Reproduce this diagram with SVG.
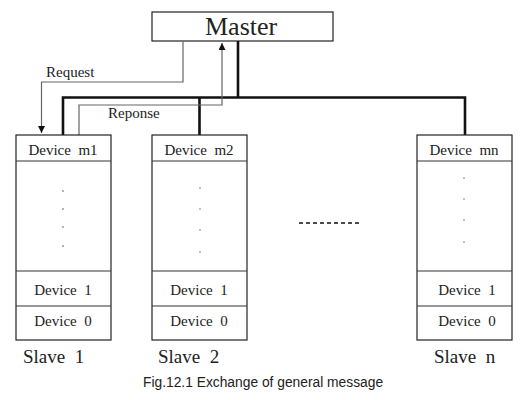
<svg xmlns="http://www.w3.org/2000/svg" width="524" height="400" viewBox="0 0 524 400">
<style>
.box{fill:#fff;stroke:#222;stroke-width:1.2}
.row{stroke:#333;stroke-width:1.2}
.t{font-family:"Liberation Serif",serif;fill:#222;white-space:pre}
.dev{font-size:15px;text-anchor:middle}
.sl{font-size:19px}
.bus{fill:none;stroke:#111;stroke-width:2.6}
.msg{fill:none;stroke:#666;stroke-width:1.2}
.dot{fill:#555}
</style>
<defs>
<marker id="ah" viewBox="0 0 10 10" refX="10" refY="5" markerWidth="7" markerHeight="7" markerUnits="userSpaceOnUse" orient="auto">
<path d="M0,0 L10,5 L0,10 Z" fill="#111"/>
</marker>
</defs>
<rect width="524" height="400" fill="#fff"/>
<g id="master">
<rect class="box" x="152" y="12" width="181" height="29"/>
<text class="t" x="205" y="35" font-size="26">Master</text>
</g>
<g id="connectors">
<path class="bus" d="M238,41 V97.5 M63,135 V97.5 H465 V135 M199.5,97.5 V135"/>
<path class="msg" d="M183,41 V82 H41.5 V133" marker-end="url(#ah)"/>
<path class="msg" d="M79,135 V105 H222 V43" marker-end="url(#ah)"/>
<text class="t" x="46" y="77" font-size="15">Request</text>
<text class="t" x="108" y="118" font-size="15">Reponse</text>
</g>
<g id="slave1">
<rect class="box" x="16" y="135" width="95" height="205"/>
<path class="row" d="M16,161H111M16,271H111M16,306H111"/>
<text class="t dev" x="63" y="155" xml:space="preserve">Device  m1</text>
<circle class="dot" cx="63" cy="191" r="0.8"/><circle class="dot" cx="63" cy="209" r="0.8"/><circle class="dot" cx="63" cy="227" r="0.8"/><circle class="dot" cx="63" cy="246" r="0.8"/>
<text class="t dev" x="63" y="295" xml:space="preserve">Device  1</text>
<text class="t dev" x="63" y="326" xml:space="preserve">Device  0</text>
<text class="t sl" x="23" y="363" xml:space="preserve">Slave  1</text>
</g>
<g id="slave2">
<rect class="box" x="152" y="135" width="95" height="205"/>
<path class="row" d="M152,161H247M152,271H247M152,306H247"/>
<text class="t dev" x="199" y="155" xml:space="preserve">Device  m2</text>
<circle class="dot" cx="200" cy="188" r="0.7"/><circle class="dot" cx="200" cy="209" r="0.7"/><circle class="dot" cx="200" cy="230" r="0.7"/><circle class="dot" cx="200" cy="252" r="0.7"/>
<text class="t dev" x="199" y="295" xml:space="preserve">Device  1</text>
<text class="t dev" x="199" y="326" xml:space="preserve">Device  0</text>
<text class="t sl" x="158" y="363" xml:space="preserve">Slave  2</text>
</g>
<g id="ellipsis">
<line x1="299" y1="223" x2="362" y2="223" stroke="#111" stroke-width="1.5" stroke-dasharray="4,3"/>
</g>
<g id="slaven">
<rect class="box" x="417" y="135" width="95" height="205"/>
<path class="row" d="M417,161H512M417,271H512M417,306H512"/>
<text class="t dev" x="464" y="155" xml:space="preserve">Device  mn</text>
<circle class="dot" cx="464" cy="178" r="0.7"/><circle class="dot" cx="464" cy="199" r="0.7"/><circle class="dot" cx="464" cy="220" r="0.7"/><circle class="dot" cx="464" cy="242" r="0.7"/>
<text class="t dev" x="467" y="295" xml:space="preserve">Device  1</text>
<text class="t dev" x="467" y="326" xml:space="preserve">Device  0</text>
<text class="t sl" x="434" y="363" xml:space="preserve">Slave  n</text>
</g>
<text x="143" y="387" font-family="Liberation Sans,Arial,sans-serif" font-size="13.8" fill="#222">Fig.12.1 Exchange of general message</text>
</svg>
